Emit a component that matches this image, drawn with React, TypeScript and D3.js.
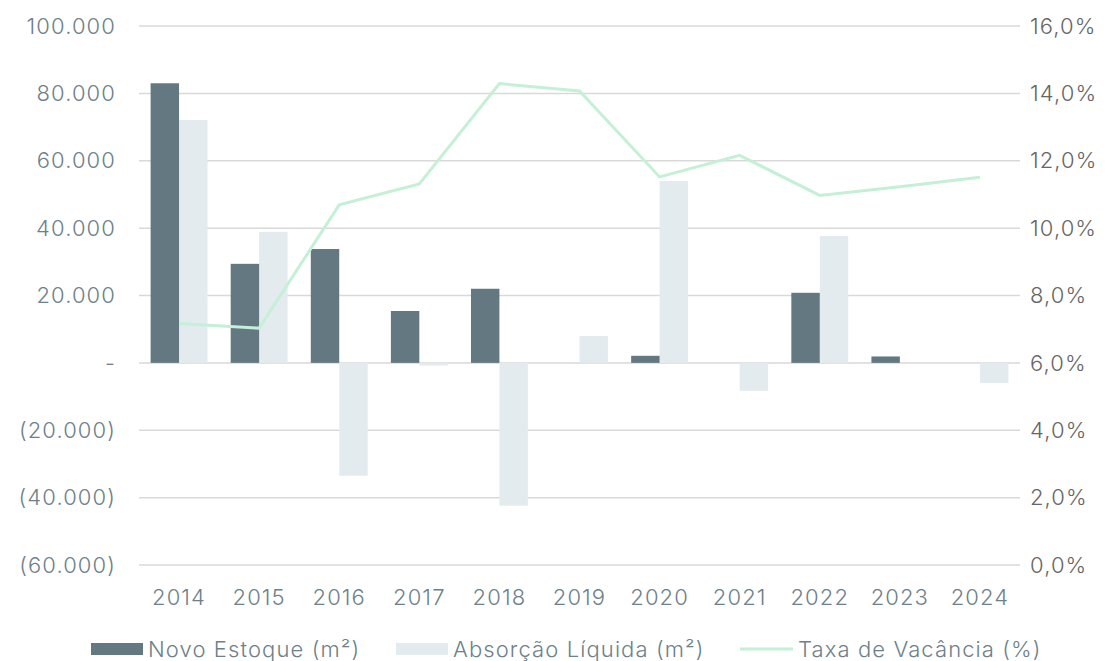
import React, { useRef, useEffect } from "react";
import * as d3 from "d3";

const years = ["2014", "2015", "2016", "2017", "2018", "2019", "2020", "2021", "2022", "2023", "2024"];
const novoEstoque = [83000, 29400, 33800, 15400, 22000, 0, 2100, 0, 20800, 1900, 0];
const absorcao = [72100, 38900, -33500, -800, -42400, 8000, 54000, -8300, 37700, 0, -6000];
const vacancia = [7.17, 7.03, 10.69, 11.31, 14.29, 14.07, 11.52, 12.16, 10.97, 11.23, 11.51];
const leftTicks = [100000, 80000, 60000, 40000, 20000, 0, -20000, -40000, -60000];
const rightTicks = [16, 14, 12, 10, 8, 6, 4, 2, 0];

const DARK = "#637880";
const LIGHT = "#e3ebee";
const GREEN = "#c3f0d6";
const GRID = "#d9d9d9";
const TEXT = "#6d818a";
const TEXT_R = "#666666";
const FONT = "Inter, 'Noto Sans', sans-serif";
const LS = "1.1px";

const fmtLeft = (v: number) => {
  if (v === 0) return "-";
  const s = d3.format(",")(Math.abs(v)).replace(/,/g, ".");
  return v < 0 ? `(${s})` : s;
};
const fmtRight = (v: number) => v.toFixed(1).replace(".", ",") + "%";

const Chart = () => {
  const ref = useRef<SVGSVGElement>(null);

  useEffect(() => {
    const svg = d3.select(ref.current);
    svg.selectAll("*").remove();

    const width = 1112;
    const height = 661;
    const margin = { top: 26, right: 92, bottom: 96, left: 139 };

    const x0 = d3
      .scaleBand()
      .domain(years)
      .range([margin.left, width - margin.right])
      .paddingInner(0.29)
      .paddingOuter(0.145);

    const x1 = d3.scaleBand().domain(["a", "b"]).range([0, x0.bandwidth()]);

    const y = d3
      .scaleLinear()
      .domain([-60000, 100000])
      .range([height - margin.bottom, margin.top]);

    const y2 = d3
      .scaleLinear()
      .domain([0, 16])
      .range([height - margin.bottom, margin.top]);

    // grid
    svg
      .append("g")
      .selectAll("line")
      .data(leftTicks)
      .join("line")
      .attr("x1", margin.left)
      .attr("x2", width - margin.right)
      .attr("y1", (d) => y(d))
      .attr("y2", (d) => y(d))
      .attr("stroke", GRID)
      .attr("stroke-width", 1.5);

    const txt = (sel: any) =>
      sel
        .attr("font-family", FONT)
        .attr("font-weight", 300)
        .attr("font-size", 22)
        .attr("letter-spacing", LS);

    // left labels
    svg
      .append("g")
      .selectAll("text")
      .data(leftTicks)
      .join("text")
      .attr("x", 116)
      .attr("y", (d) => y(d))
      .attr("dy", "0.35em")
      .attr("text-anchor", "end")
      .call(txt)
      .attr("fill", TEXT)
      .text((d) => fmtLeft(d));

    // right labels
    svg
      .append("g")
      .selectAll("text")
      .data(rightTicks)
      .join("text")
      .attr("x", 1030)
      .attr("y", (d) => y2(d))
      .attr("dy", "0.35em")
      .call(txt)
      .attr("fill", TEXT_R)
      .text((d) => fmtRight(d));

    // bars
    const barY = (v: number) => Math.min(y(v), y(0));
    const barH = (v: number) => Math.abs(y(v) - y(0));

    svg
      .append("g")
      .selectAll("rect")
      .data(years.map((yr, i) => ({ yr, v: absorcao[i] })))
      .join("rect")
      .attr("x", (d) => (x0(d.yr) ?? 0) + (x1("b") ?? 0))
      .attr("width", x1.bandwidth())
      .attr("y", (d) => barY(d.v))
      .attr("height", (d) => barH(d.v))
      .attr("fill", LIGHT);

    svg
      .append("g")
      .selectAll("rect")
      .data(years.map((yr, i) => ({ yr, v: novoEstoque[i] })))
      .join("rect")
      .attr("x", (d) => (x0(d.yr) ?? 0) + (x1("a") ?? 0))
      .attr("width", x1.bandwidth())
      .attr("y", (d) => barY(d.v))
      .attr("height", (d) => barH(d.v))
      .attr("fill", DARK);

    // line
    const line = d3
      .line<number>()
      .x((_, i) => (x0(years[i]) ?? 0) + x0.bandwidth() / 2)
      .y((d) => y2(d));

    svg
      .append("path")
      .datum(vacancia)
      .attr("fill", "none")
      .attr("stroke", GREEN)
      .attr("stroke-width", 3)
      .attr("d", line);

    // x labels
    svg
      .append("g")
      .selectAll("text")
      .data(years)
      .join("text")
      .attr("x", (d) => (x0(d) ?? 0) + x0.bandwidth() / 2)
      .attr("y", 597)
      .attr("dy", "0.35em")
      .attr("text-anchor", "middle")
      .call(txt)
      .attr("fill", TEXT)
      .text((d) => d);

    // legend
    const lg = svg.append("g").call(txt).attr("fill", TEXT);
    lg.append("rect").attr("x", 91).attr("y", 643).attr("width", 52).attr("height", 12).attr("fill", DARK);
    lg.append("text").attr("x", 148).attr("y", 649).attr("dy", "0.35em").text("Novo Estoque (m²)");
    lg.append("rect").attr("x", 396).attr("y", 643).attr("width", 52).attr("height", 12).attr("fill", LIGHT);
    lg.append("text").attr("x", 453).attr("y", 649).attr("dy", "0.35em").text("Absorção Líquida (m²)");
    lg.append("line").attr("x1", 740).attr("x2", 793).attr("y1", 649).attr("y2", 649).attr("stroke", GREEN).attr("stroke-width", 3);
    lg.append("text").attr("x", 798).attr("y", 649).attr("dy", "0.35em").text("Taxa de Vacância (%)");
  }, []);

  return <svg width={1112} height={661} ref={ref} style={{ position: "absolute", left: 0, top: 0 }}></svg>;
};

export default function App() {
  return <Chart />;
}
